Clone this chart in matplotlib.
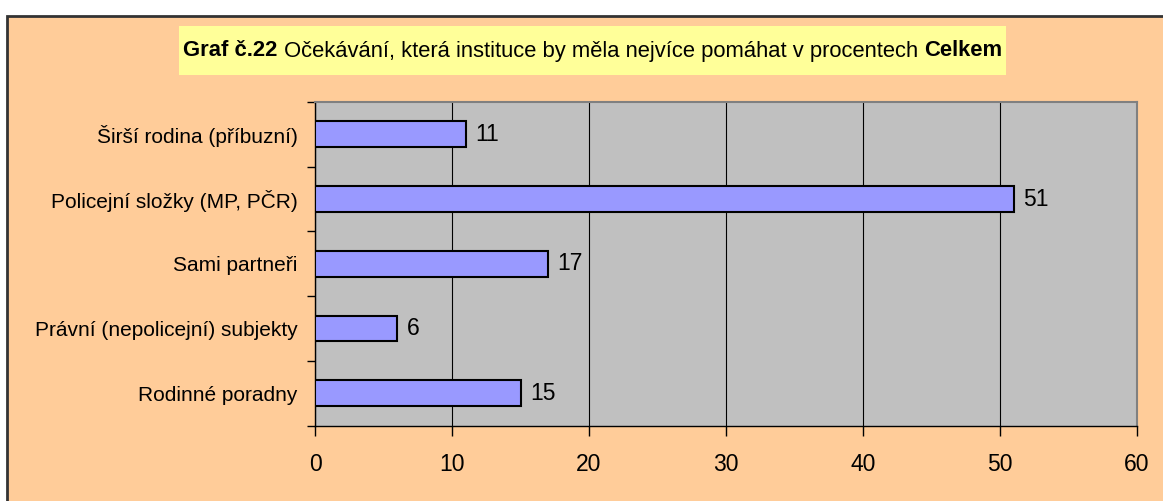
import matplotlib
matplotlib.use("Agg")
import matplotlib.pyplot as plt
from matplotlib.patches import Rectangle
import numpy as np

categories = ["Rodinné poradny", "Právní (nepolicejní) subjekty", "Sami partneři",
              "Policejní složky (MP, PČR)", "Širší rodina (příbuzní)"]
values = [15, 6, 17, 51, 11]
xticks = [0, 10, 20, 30, 40, 50, 60]
title_parts = [("Graf č.22", "bold"), (" Očekávání, která instituce by měla nejvíce pomáhat v procentech ", "normal"), ("Celkem", "bold")]

plt.rcParams['font.family'] = ['Liberation Sans', 'DejaVu Sans']

W, H = 1163, 501
fig = plt.figure(figsize=(W / 100, H / 100), dpi=100, facecolor="white")

# outer frame
frame = Rectangle((7 / W, -0.05), 1.1, 1 - 16 / H + 0.05, transform=fig.transFigure,
                  facecolor="#FFCC99", edgecolor="#333333", linewidth=2, zorder=0)
fig.patches.append(frame)

# title box
tb = Rectangle((179 / W, 1 - 75 / H), (1006 - 179) / W, (75 - 26) / H, transform=fig.transFigure,
               facecolor="#FFFF99", edgecolor="none", zorder=1)
fig.patches.append(tb)

ax = fig.add_axes([315 / W, 1 - 425.5 / H, (1137 - 315) / W, (425.5 - 102) / H])
ax.set_zorder(3)
ax.set_facecolor("#C0C0C0")
y = np.arange(len(categories))
ax.barh(y, values, height=0.4, color="#9999FF", edgecolor="black", linewidth=1.5, zorder=3)
for yi, v in zip(y, values):
    ax.text(v + 0.7, yi, str(v), va="center", ha="left", fontsize=16.5, zorder=4)

ax.set_xlim(0, 60)
ax.set_ylim(-0.5, len(categories) - 0.5)
ax.set_xticks(xticks)
ax.set_xticklabels([str(t) for t in xticks], fontsize=16.5)
ax.set_yticks(y)
ax.set_yticklabels(categories, fontsize=15)
ax.set_yticks(np.arange(-0.5, len(categories), 1), minor=True)
ax.tick_params(axis="y", which="major", length=0, pad=12.5)
ax.tick_params(axis="y", which="minor", length=6, width=1, direction="out")
ax.tick_params(axis="x", length=7, width=1, direction="out", pad=13)
ax.xaxis.grid(True, color="black", linewidth=0.8, zorder=1)
ax.set_axisbelow(True)
for s in ["top", "right"]:
    ax.spines[s].set_color("#808080")
    ax.spines[s].set_linewidth(1.5)
for s in ["left", "bottom"]:
    ax.spines[s].set_color("black")
    ax.spines[s].set_linewidth(1)

# title with mixed weights
fig.canvas.draw()
renderer = fig.canvas.get_renderer()
texts = []
for s, w in title_parts:
    t = fig.text(0, 1 - 51 / H, s, fontsize=15.8, fontweight=w, va="center", ha="left", zorder=5)
    texts.append(t)
widths = [t.get_window_extent(renderer).width for t in texts]
total = sum(widths)
x0 = (179 + 1006) / 2 - total / 2
for t, wdt in zip(texts, widths):
    t.set_x(x0 / W)
    x0 += wdt

fig.savefig("out.png", dpi=100, facecolor="white")
